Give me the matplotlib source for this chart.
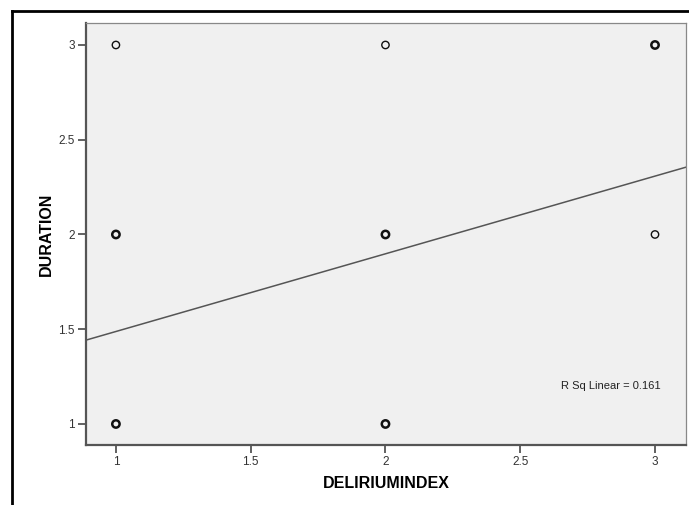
import numpy as np
import matplotlib.pyplot as plt
from matplotlib.lines import Line2D

# scatter points (bold ones are repeated cases)
delirium = [1, 1, 1, 2, 2, 2, 3, 3]
duration = [1, 2, 3, 1, 2, 3, 2, 3]
repeated = [True, True, False, True, True, False, False, True]

# linear fit
slope = 0.41
intercept = 1.078
r_sq = 0.161

xticks = [1, 1.5, 2, 2.5, 3]
yticks = [1, 1.5, 2, 2.5, 3]

fig = plt.figure(figsize=(6.89, 5.05), dpi=100)
ax = fig.add_axes([86/689, 60/505, 600/689, 422/505])
ax.set_facecolor('#f0f0f0')

xl = (0.889, 3.115)
yl = (0.889, 3.116)
ax.set_xlim(*xl)
ax.set_ylim(*yl)

xs = np.array(xl)
ax.plot(xs, intercept + slope * xs, color='#555555', lw=1.1, zorder=2)

for x, y, rep in zip(delirium, duration, repeated):
    ax.scatter([x], [y], s=28, facecolors='none', edgecolors='#111111',
               linewidths=1.8 if rep else 1.0, zorder=3)

ax.text(3.02, 1.2, 'R Sq Linear = %.3f' % r_sq, fontsize=8, ha='right',
        va='center', color='#222222', family='Liberation Sans')

for s in ['left', 'bottom']:
    ax.spines[s].set_color('#555555')
    ax.spines[s].set_linewidth(1.6)
for s in ['top', 'right']:
    ax.spines[s].set_color('#888888')
    ax.spines[s].set_linewidth(0.9)

ax.set_xticks(xticks)
ax.set_xticklabels(['1', '1.5', '2', '2.5', '3'])
ax.set_yticks(yticks)
ax.set_yticklabels(['1', '1.5', '2', '2.5', '3'])
ax.tick_params(axis='both', length=6, width=1.3, color='#555555',
               labelsize=8.5, labelcolor='#333333', pad=2)
for t in ax.get_xticklabels() + ax.get_yticklabels():
    t.set_family('Liberation Sans')

ax.set_xlabel('DELIRIUMINDEX', fontsize=11.5, fontweight='bold',
              family='Liberation Sans')
ax.set_ylabel('DURATION', fontsize=11.5, fontweight='bold',
              family='Liberation Sans')
ax.xaxis.set_label_coords(0.5, -0.073)
ax.yaxis.set_label_coords(-0.053, 0.5)

# outer frame
fig.add_artist(Line2D([12/689, 12/689], [0, 1 - 11/505], color='black',
                      lw=2, transform=fig.transFigure))
fig.add_artist(Line2D([12/689, 1], [1 - 11/505, 1 - 11/505], color='black',
                      lw=2, transform=fig.transFigure))

plt.savefig('out.png', dpi=100)
